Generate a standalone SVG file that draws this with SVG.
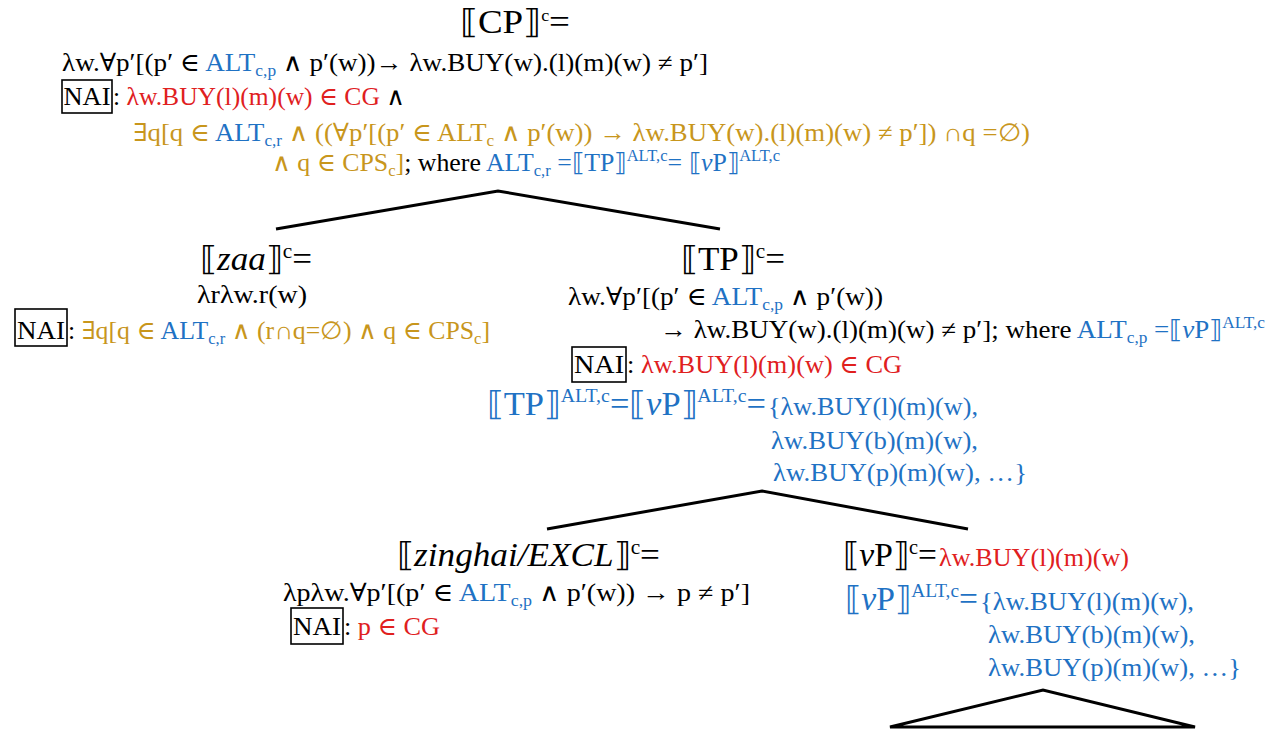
<svg xmlns="http://www.w3.org/2000/svg" width="1283" height="729" viewBox="0 0 1283 729">
<style>
text{font-family:"Liberation Serif","DejaVu Serif",serif;font-size:25px;fill:#000}
.b{fill:#1f72c4}.r{fill:#e0201e}.g{fill:#c8961c}.k{fill:#000}
.big{font-size:33px}
.sm{font-size:16px}
.i{font-style:italic}
.nai{font-size:26px}
.box{fill:none;stroke:#000;stroke-width:1.6}
.edge{fill:none;stroke:#000;stroke-width:3;stroke-linejoin:miter}
</style>
<rect width="1283" height="729" fill="#fff"/>
<g id="connectors">
<path class="edge" d="M276,229 L498,191 L720,229"/>
<path class="edge" d="M547,529 L762,491 L968,529"/>
<path class="edge" d="M890,727 L1043,690 L1195,727 Z"/>
</g>
<g id="node-CP">
<text class="big" x="460" y="33" textLength="110" lengthAdjust="spacingAndGlyphs">⟦CP⟧<tspan class="sm" font-size="20" dy="-12">c</tspan><tspan dy="12">=</tspan></text>
<text x="62" y="71" textLength="646" lengthAdjust="spacingAndGlyphs">λw.∀p′[(p′ ∈ <tspan class="b">ALT</tspan><tspan class="b sm" dy="5">c,p</tspan><tspan dy="-5"> ∧ p′(w))→ λw.BUY(w).(l)(m)(w) ≠ p′]</tspan></text>
<rect class="box" x="62" y="80" width="50" height="33"/>
<text class="nai" x="63.5" y="105" textLength="47" lengthAdjust="spacingAndGlyphs">NAI</text>
<text x="113" y="105" textLength="292" lengthAdjust="spacingAndGlyphs">: <tspan class="r">λw.BUY(l)(m)(w) ∈ CG</tspan> ∧</text>
<text class="g" x="133" y="141" textLength="897" lengthAdjust="spacingAndGlyphs">∃q[q ∈ <tspan class="b">ALT</tspan><tspan class="b sm" dy="5">c,r</tspan><tspan dy="-5"> ∧ ((∀p′[(p′ ∈ ALT</tspan><tspan class="sm" dy="5">c</tspan><tspan dy="-5"> ∧ p′(w)) → λw.BUY(w).(l)(m)(w) ≠ p′]) ∩q =∅)</tspan></text>
<text class="g" x="272" y="171" textLength="508" lengthAdjust="spacingAndGlyphs">∧ q ∈ CPS<tspan class="sm" dy="5">c</tspan><tspan dy="-5">]</tspan><tspan class="k">; where </tspan><tspan class="b">ALT</tspan><tspan class="b sm" dy="5">c,r</tspan><tspan class="b" dy="-5"> =⟦TP⟧</tspan><tspan class="b sm" dy="-10">ALT,c</tspan><tspan class="b" dy="10">= ⟦</tspan><tspan class="b i">ν</tspan><tspan class="b">P⟧</tspan><tspan class="b sm" dy="-10">ALT,c</tspan></text>
</g>
<g id="node-zaa">
<text class="big" x="200" y="270" textLength="112" lengthAdjust="spacingAndGlyphs">⟦<tspan class="i">zaa</tspan>⟧<tspan font-size="20" dy="-12">c</tspan><tspan dy="12">=</tspan></text>
<text x="197" y="303" textLength="110" lengthAdjust="spacingAndGlyphs">λrλw.r(w)</text>
<rect class="box" x="15" y="309" width="52" height="37"/>
<text class="nai" x="17" y="339" textLength="48" lengthAdjust="spacingAndGlyphs">NAI</text>
<text x="68" y="339" textLength="422" lengthAdjust="spacingAndGlyphs">: <tspan class="g">∃q[q ∈ </tspan><tspan class="b">ALT</tspan><tspan class="b sm" dy="5">c,r</tspan><tspan class="g" dy="-5"> ∧ (r∩q=∅) ∧ q ∈ CPS</tspan><tspan class="g sm" dy="5">c</tspan><tspan class="g" dy="-5">]</tspan></text>
</g>
<g id="node-TP">
<text class="big" x="681" y="270" textLength="104" lengthAdjust="spacingAndGlyphs">⟦TP⟧<tspan font-size="20" dy="-12">c</tspan><tspan dy="12">=</tspan></text>
<text x="568" y="305" textLength="315" lengthAdjust="spacingAndGlyphs">λw.∀p′[(p′ ∈ <tspan class="b">ALT</tspan><tspan class="b sm" dy="5">c,p</tspan><tspan dy="-5"> ∧ p′(w))</tspan></text>
<text x="660" y="338" textLength="605" lengthAdjust="spacingAndGlyphs">→ λw.BUY(w).(l)(m)(w) ≠ p′]; where <tspan class="b">ALT</tspan><tspan class="b sm" dy="5">c,p</tspan><tspan class="b" dy="-5"> =⟦</tspan><tspan class="b i">ν</tspan><tspan class="b">P⟧</tspan><tspan class="b sm" dy="-10">ALT,c</tspan></text>
<rect class="box" x="572" y="347" width="54" height="35"/>
<text class="nai" x="574" y="373" textLength="50" lengthAdjust="spacingAndGlyphs">NAI</text>
<text x="627" y="373" textLength="275" lengthAdjust="spacingAndGlyphs">: <tspan class="r">λw.BUY(l)(m)(w) ∈ CG</tspan></text>
<text class="b big" x="487" y="415" textLength="279" lengthAdjust="spacingAndGlyphs">⟦TP⟧<tspan font-size="19" dy="-13">ALT,c</tspan><tspan dy="13">=⟦</tspan><tspan class="i">ν</tspan>P⟧<tspan font-size="19" dy="-13">ALT,c</tspan><tspan dy="13">=</tspan></text>
<text class="b" x="768" y="415" textLength="210" lengthAdjust="spacingAndGlyphs">{λw.BUY(l)(m)(w),</text>
<text class="b" x="771" y="449" textLength="207" lengthAdjust="spacingAndGlyphs">λw.BUY(b)(m)(w),</text>
<text class="b" x="773" y="481" textLength="254" lengthAdjust="spacingAndGlyphs">λw.BUY(p)(m)(w), …}</text>
</g>
<g id="node-zinghai">
<text class="big" x="397" y="566" textLength="263" lengthAdjust="spacingAndGlyphs">⟦<tspan class="i">zinghai/EXCL</tspan>⟧<tspan font-size="20" dy="-12">c</tspan><tspan dy="12">=</tspan></text>
<text x="283" y="601" textLength="467" lengthAdjust="spacingAndGlyphs">λpλw.∀p′[(p′ ∈ <tspan class="b">ALT</tspan><tspan class="b sm" dy="5">c,p</tspan><tspan dy="-5"> ∧ p′(w)) → p ≠ p′]</tspan></text>
<rect class="box" x="291" y="608" width="52" height="36"/>
<text class="nai" x="293" y="635" textLength="48" lengthAdjust="spacingAndGlyphs">NAI</text>
<text x="344" y="635" textLength="96" lengthAdjust="spacingAndGlyphs">: <tspan class="r">p ∈ CG</tspan></text>
</g>
<g id="node-vP">
<text class="big" x="843" y="566" textLength="94" lengthAdjust="spacingAndGlyphs">⟦<tspan class="i">ν</tspan>P⟧<tspan font-size="20" dy="-12">c</tspan><tspan dy="12">=</tspan></text>
<text class="r" x="939" y="566" textLength="190" lengthAdjust="spacingAndGlyphs">λw.BUY(l)(m)(w)</text>
<text class="b big" x="845" y="610" textLength="133" lengthAdjust="spacingAndGlyphs">⟦<tspan class="i">ν</tspan>P⟧<tspan font-size="19" dy="-13">ALT,c</tspan><tspan dy="13">=</tspan></text>
<text class="b" x="980" y="610" textLength="214" lengthAdjust="spacingAndGlyphs">{λw.BUY(l)(m)(w),</text>
<text class="b" x="988" y="643" textLength="207" lengthAdjust="spacingAndGlyphs">λw.BUY(b)(m)(w),</text>
<text class="b" x="988" y="676" textLength="253" lengthAdjust="spacingAndGlyphs">λw.BUY(p)(m)(w), …}</text>
</g>
</svg>
